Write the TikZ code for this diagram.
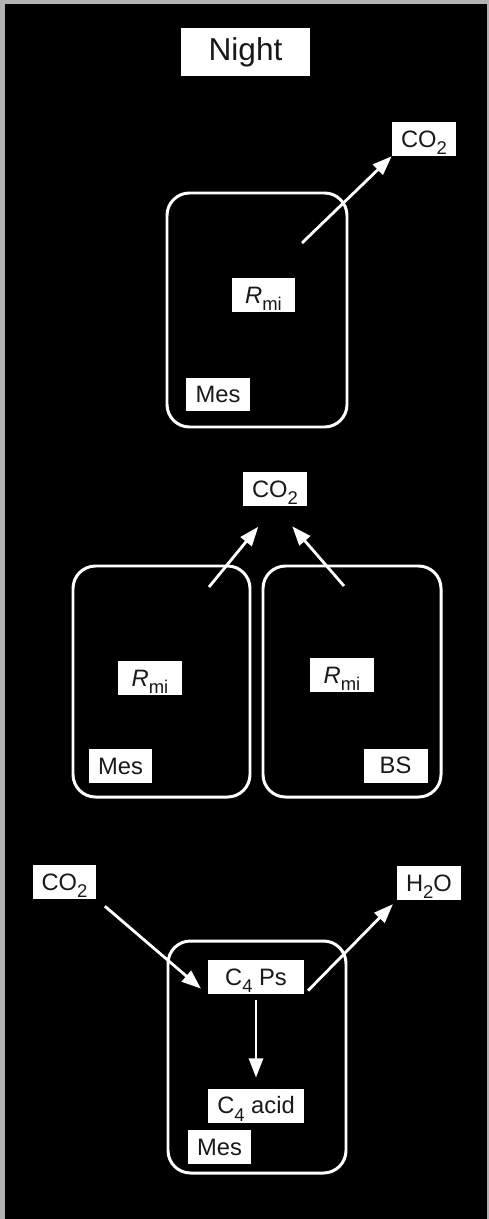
\documentclass[tikz,border=0pt]{standalone}
\usepackage{fontspec}
\setmainfont{Liberation Sans}
\usetikzlibrary{arrows.meta}

\newcommand{\lowsub}[1]{\raisebox{-4pt}[0pt][0pt]{\fontsize{10.5}{12}\selectfont #1}}

\begin{document}
\begin{tikzpicture}[x=0.02cm, y=-0.02cm,
		lbl/.style={fill=white, text=black!90, inner sep=0pt, minimum width=1.28cm, minimum height=0.68cm, font=\fontsize{13.5}{15}\selectfont},
		cell/.style={draw=white, line width=1.7pt, rounded corners=0.45cm},
		flow/.style={draw=white, line width=1.6pt, -{Triangle[length=11pt,width=8pt]}}]
				\useasboundingbox (0,0) rectangle (489,1219);
				\fill[black!30] (0,0) rectangle (489,1219);
				\fill[black] (5,4) rectangle (487,1219);
				
				\node[lbl, minimum width=2.58cm, minimum height=0.96cm, font=\fontsize{18}{21}\selectfont] (night) at (245.5,52) {Night};
				
				\draw[cell] (167,193) rectangle (347,427);
				\node[lbl] (co2a) at (424,139) {CO\lowsub{2}};
				\node[lbl] (rmia) at (263.5,295) {\textit{R}\lowsub{mi}};
				\node[lbl] (mesa) at (218,394.5) {Mes};
				\coordinate (outa) at (302,243);
				\draw[flow] (outa) -- (co2a.south west);
				
				\draw[cell] (73,566) rectangle (250,797);
				\draw[cell] (263,566) rectangle (441,797);
				\node[lbl] (co2b) at (275,489) {CO\lowsub{2}};
				\node[lbl] (rmib) at (150,678) {\textit{R}\lowsub{mi}};
				\node[lbl] (rmic) at (342,675) {\textit{R}\lowsub{mi}};
				\node[lbl] (mesb) at (120.5,766) {Mes};
				\node[lbl] (bs) at (395.5,765.5) {BS};
				\coordinate (outb) at (209,587);
				\coordinate (outc) at (344,586);
				\draw[flow, shorten >=15pt] (outb) -- (co2b.south);
				\draw[flow, shorten >=15pt] (outc) -- (co2b.south);
				
				\draw[cell] (168,941) rectangle (346,1173);
				\node[lbl] (co2c) at (64.5,882) {CO\lowsub{2}};
				\node[lbl] (h2o) at (429,883) {H\lowsub{2}O};
				\node[lbl, minimum width=1.92cm] (c4ps) at (256,977) {C\lowsub{4} Ps};
				\node[lbl, minimum width=1.94cm] (c4acid) at (256,1105.5) {C\lowsub{4} acid};
				\node[lbl] (mesc) at (219.5,1147) {Mes};
				\draw[flow, shorten <=6pt, shorten >=5pt] (co2c.south east) -- (c4ps.south west);
				\draw[flow, shorten <=3pt, shorten >=3pt] (c4ps.south east) -- (h2o.south west);
				\draw[flow, shorten <=3pt, shorten >=6pt] (c4ps.south) -- (c4acid.north);
\end{tikzpicture}
\end{document}
